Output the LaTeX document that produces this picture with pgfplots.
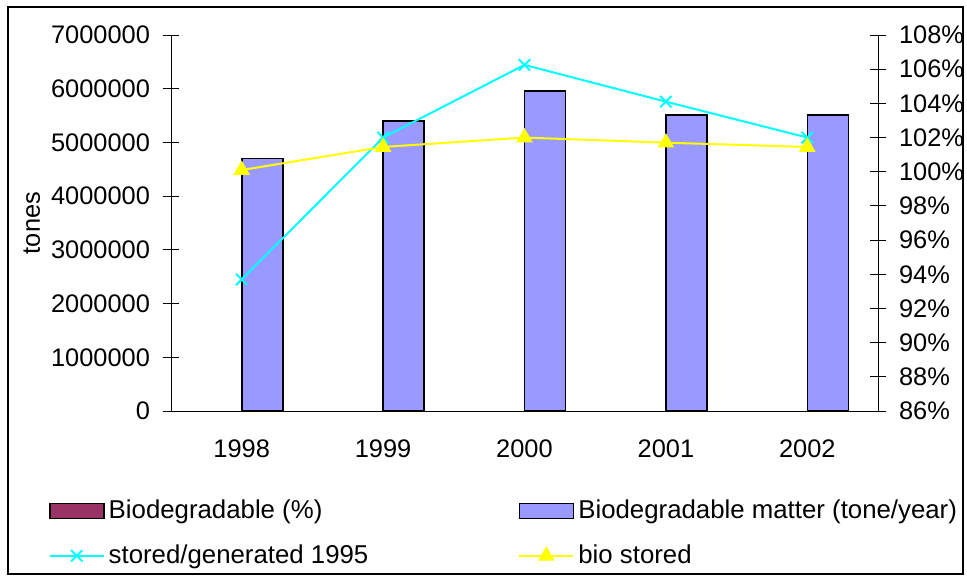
\documentclass[border=0pt]{standalone}
\usepackage{pgfplots}
\pgfplotsset{compat=1.18}
\usepackage{fontspec}
\setmainfont{Liberation Sans}
\definecolor{barblue}{HTML}{9999FF}
\definecolor{barplum}{HTML}{993366}
\definecolor{lcyan}{HTML}{00FFFF}
\definecolor{lyellow}{HTML}{FFFF00}
\newcommand{\chartfont}{\fontsize{12.7}{15.2}\selectfont}
\newcommand{\legfont}{\fontsize{12.9}{15.4}\selectfont}
\pgfplotsset{
  linelegend/.style={legend image code/.code={%
    \draw[mark repeat=2, mark phase=2, ##1] plot coordinates {(0pt,0pt) (13.5pt,0pt) (27pt,0pt)};}},
  boxlegend/.style={legend image code/.code={%
    \draw[##1] (0pt,-3.75pt) rectangle (27pt,3.75pt);}},
  chart/.style={
    at={(85.5pt,82pt)}, anchor=south west,
    scale only axis, width=353.5pt, height=188pt,
    xmin=-0.5, xmax=4.5,
    tick align=center,
    major tick length=8pt,
    tick style={black, line width=0.5pt},
    axis line style={black, line width=0.5pt},
    tick label style={font=\chartfont},
    label style={font=\chartfont},
    /pgf/number format/assume math mode=true,
  },
}
\begin{document}
\begin{tikzpicture}[x=1pt,y=1pt]
\path[use as bounding box] (0,0) rectangle (483.5,287.5);
\draw[line width=1pt] (4,0.5) rectangle (481.5,284);
% left axis: tonnes
\begin{axis}[chart,
  axis y line*=left, axis x line*=bottom,
  ymin=0, ymax=7000000, ytick distance=1000000,
  scaled y ticks=false,
  yticklabel style={/pgf/number format/fixed, /pgf/number format/1000 sep={}, xshift=-3pt},
  xtick={0,1,2,3,4},
  xticklabels={1998,1999,2000,2001,2002},
  x tick style={draw=none},
  minor xtick={-0.5,0.5,1.5,2.5,3.5,4.5},
  minor tick length=7.5pt,
  xticklabel style={yshift=-7pt},
  ylabel={tones},
  ylabel style={at={(axis description cs:-0.197,0.5)}, anchor=center},
]
\addplot[ybar, bar width=20.5pt, bar shift=10.25pt, fill=barblue, draw=black, line width=0.8pt]
  coordinates {(0,4700000) (1,5400000) (2,5960000) (3,5510000) (4,5510000)};
\end{axis}
% right axis: percent
\begin{axis}[chart,
  axis y line*=right, axis x line=none,
  ymin=86, ymax=108, ytick={86,88,...,108},
  yticklabel={\pgfmathprintnumber{\tick}\%},
  yticklabel style={xshift=3pt},
  legend columns=2,
  legend cell align=left,
  legend style={draw=none, fill=none, font=\legfont,
    at={(axis description cs:-0.182,-0.215)}, anchor=north west,
    row sep=7.5pt,
    /tikz/every even column/.append style={column sep=73pt}},
]
\addlegendimage{boxlegend, fill=barplum, draw=black, line width=0.8pt}
\addlegendentry{Biodegradable (\%)}
\addlegendimage{boxlegend, fill=barblue, draw=black, line width=0.8pt}
\addlegendentry{Biodegradable matter (tone/year)}
\addplot[lcyan, line width=1pt, mark=x, mark size=4pt, linelegend]
  coordinates {(0,93.7) (1,102.0) (2,106.25) (3,104.1) (4,102.0)};
\addlegendentry{stored/generated 1995}
\addplot[lyellow, line width=1pt, mark=triangle*, mark size=3.8pt, linelegend]
  coordinates {(0,100.1) (1,101.45) (2,102.0) (3,101.7) (4,101.45)};
\addlegendentry{bio stored}
\end{axis}
\end{tikzpicture}
\end{document}
